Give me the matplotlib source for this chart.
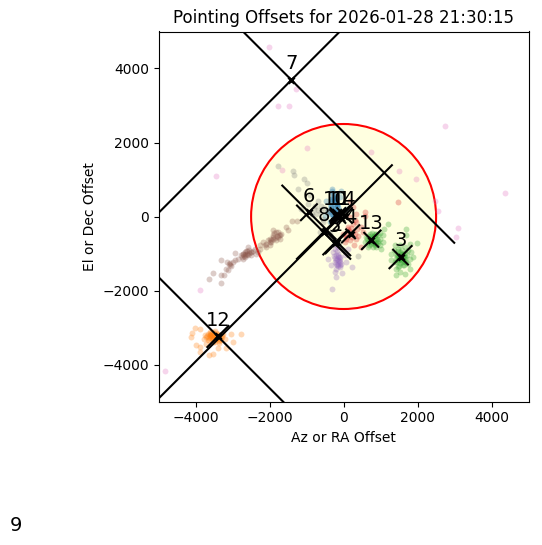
import matplotlib
matplotlib.use('Agg')
import matplotlib.pyplot as plt

# target number, centre and half lengths of the two arms of each cross
target_ids = [1, 2, 3, 4, 5, 6, 7, 8, 9, 10, 11, 12, 13, 14]
target_x = [-153, -180, 1539, 189, -243, -937, -1410, -540, -8865, -216, -126, -3397, 747, 27]
target_y = [27, -690, -1098, -468, -720, 116, 3690, -423, -8784, 27, 27, -3243, -630, 27]
arm_down = [200, 360, 200, 120, 360, 720, 4400, 720, 10170, 150, 150, 3400, 190, 200]
arm_up = [200, 306, 300, 234, 306, 216, 4400, 720, 10170, 150, 150, 285, 252, 200]

# measured offsets, one cloud per target
blue_x = [-306, -63, -468, -288, -378, -288, -513, -378, -243, -423, -108, -243, 72, -180, -306, -200, -330,
          -320, -280, -240, -200, -350, -310, -270, -230, -190, -150, -340, -300, -260, -220, -180, -400, -360,
          -320, -280, -240, -300, -260, -220, -340, -290, -250, -210, -170, -130]
blue_y = [747, 684, 432, 612, 342, 162, 27, -153, 432, 162, 522, -18, 207, 297, 477, 120, 250,
          700, 640, 560, 500, 480, 420, 380, 330, 300, 260, 270, 230, 190, 160, 130, 110, 80,
          60, 30, 10, -30, -60, -90, -120, 520, 460, 400, 340, 180]
green_x = [1692, 1674, 1980, 1782, 1377, 1512, 1647, 1287, 1359, 1467, 1737, 1827, 1782, 1872, 1287, 1377, 1422,
           1512, 1647, 1782, 1737, 1602, 1422, 1467, 1602, 1647, 1422, 1557, 1512, 1647,
           1420, 1460, 1500, 1540, 1580, 1620, 1660, 1700, 1440, 1480, 1520, 1560, 1600, 1640, 1680, 1450, 1490,
           1530, 1570, 1610, 1650, 1540, 1580, 1500, 1460]
green_y = [-333, -495, -711, -738, -783, -765, -828, -1008, -918, -873, -918, -963, -1143, -1098, -1188, -1233, -1593,
           -1503, -1548, -1413, -1278, -1323, -1413, -1053, -1008, -1098, -1143, -1188, -963, -1233,
           -1000, -940, -1060, -1120, -1000, -1060, -1160, -1040, -1240, -1180, -1260, -1000, -1180, -1300, -1220,
           -1080, -1120, -1160, -1240, -1130, -980, -1080, -900, -1340, -1360]
red_x = [567, 567, 342, 477, 522, 342, 477, 270, 1467, 162, 252, 342, 162, 117, 252, 72, -18, 162, 27,
         300, 250, 200, 150, 100, 350, 400, 300, 220, 130, 60]
red_y = [135, 27, -153, -288, -423, -603, -828, -783, 405, 432, 252, 72, -18, -288, -423, -558, -468, -648, -693,
         -100, -200, -300, -400, -500, -330, -520, -480, -560, -350, -620]
purple_x = [-423, -351, -198, -36, 225, 72, -198, -18, -198, -108, -153, -108, -198, -63, -243, -153, -288, 27, 117, -315,
            -220, -190, -160, -130, -100, -210, -170, -140, -110, -200, -160, -120, -240, -180, -140, -260, -220, -90]
purple_y = [-1143, -1305, -1638, -1530, -1368, -1233, -783, -918, -1188, -1098, -1278, -1368, -1413, -1278, -1503,
            -1008, -963, -1053, -873, -1953,
            -1120, -1150, -1180, -1210, -1240, -1290, -1320, -1350, -1310, -1030, -1060, -1090, -880, -920, -820, -1080, -1240, -1140]
brown_x = [-3636, -3528, -3321, -3231, -3303, -3303, -3141, -3168, -3078, -3033, -3123, -2925, -2943, -2853, -2763,
           -2718, -2673, -2583, -2583, -2493, -2403, -2358, -2268, -2178, -2088, -1998, -1908, -1818, -1728, -1908,
           -1728, -1548, -1395, -1251, -1503, -2043, -1953, -2133, -1998, -1773, -2673, -2628, -2718,
           -2750, -2700, -2650, -2600, -2550, -2500, -2450, -2720, -2660, -2610, -2560, -2510, -2000, -1950, -1900,
           -1850, -1800, -1750, -1700, -1920, -1870, -1820, -1770, -2100, -2250, -2320, -3090, -3060, -3000]
brown_y = [-1683, -1521, -1593, -1593, -1791, -1188, -1233, -1413, -1323, -1341, -1458, -981, -1188, -1143, -1053,
           -1008, -1098, -828, -1053, -963, -873, -1008, -783, -693, -738, -603, -558, -648, -513, -378,
           -603, -288, -135, -135, -378, -648, -693, -783, -783, -423, -1008, -945, -1143,
           -1090, -1060, -1030, -1000, -980, -950, -930, -1010, -970, -930, -900, -1040, -690, -640, -600,
           -570, -540, -500, -470, -490, -450, -420, -560, -820, -880, -950, -1290, -1270, -1240]
pink_x = [-2016, -1287, -1773, -1476, -990, -3456, 2754, 4374, -3870, -4825, -1665, 747, 1494, 1962, 2457, 2547, 3100, 3050]
pink_y = [4590, 3447, 2988, 2988, 1854, 1107, 2457, 648, -1980, -4166, 1260, 1737, 1242, 1017, 432, 162, -300, -550]
gray_x = [-1773, -1368, -1341, -1071, -990, -1233, -900, -693, -963, -783, -603, -1143, -738, -558, -648, -378, 387,
          -800, -700, -620, -520, -850, -450, -560]
gray_y = [1359, 1224, 1125, 1017, 909, 747, 585, 432, 342, 297, 297, 207, 72, -153, -423, -468, -1071,
          200, 180, 130, 220, 80, 130, -60]
orange_x = [-4028, -3875, -4091, -4118, -3983, -3893, -3785, -3713, -3623, -3578, -3533, -3488, -3668, -3713, -3488,
            -3353, -3218, -3263, -3038, -2768, -2993, -3173, -3398, -3650, -3533, -3893, -3750, -3650, -3550, -3450,
            -3400, -3300, -3600, -3480, -3520, -3380,
            -3700, -3660, -3620, -3580, -3540, -3500, -3460, -3420, -3380, -3340, -3300, -3640, -3600, -3560, -3520,
            -3480, -3440, -3400, -3360, -3320, -3620, -3570, -3510, -3460]
orange_y = [-3001, -3028, -3145, -3253, -3478, -3523, -3298, -3253, -3208, -3163, -3253, -3298, -3343, -3433, -3388,
            -3343, -3298, -3163, -3181, -3163, -3388, -3541, -3541, -3748, -3721, -3658, -3200, -3280, -3320, -3200,
            -3280, -3250, -3120, -3100, -3400, -3420,
            -3230, -3170, -3260, -3190, -3300, -3230, -3150, -3270, -3190, -3310, -3210, -3340, -3160, -3260, -3130,
            -3340, -3240, -3170, -3360, -3290, -3210, -3230, -3170, -3280]
green2_x = [1197, 1080, 972, 1062, 1062, 972, 702, 837, 612, 567, 657, 792, 882, 972, 657, 837, 927, 747, 882, 1017,
            620, 660, 700, 740, 780, 820, 860, 900, 940, 680, 720, 760, 800, 840, 880, 920, 700, 760, 820, 880]
green2_y = [-198, -333, -441, -513, -693, -783, -468, -468, -558, -693, -828, -828, -693, -603, -693, -603, -513, -738, -828, -873,
            -620, -540, -600, -520, -580, -680, -540, -620, -720, -760, -660, -440, -720, -780, -480, -660, -690, -590, -530, -740]

fig = plt.figure(figsize=(5.42, 5.45), dpi=100)
ax = fig.add_axes([158.6 / 542, 143.5 / 545, 370 / 542, 370 / 545])

ax.add_patch(plt.Circle((0, 0), 2500, facecolor='lightyellow', edgecolor='red', linewidth=1.5, zorder=1))

clouds = [(blue_x, blue_y, 'tab:blue'), (orange_x, orange_y, 'tab:orange'), (green_x, green_y, 'tab:green'),
          (green2_x, green2_y, 'tab:green'), (red_x, red_y, 'tab:red'), (purple_x, purple_y, 'tab:purple'),
          (brown_x, brown_y, 'tab:brown'), (pink_x, pink_y, 'tab:pink'), (gray_x, gray_y, 'tab:gray')]
for xs, ys, col in clouds:
    ax.plot(xs, ys, '.', color=col, alpha=0.3, markersize=8.5, markeredgewidth=0, zorder=2)

for i in range(len(target_ids)):
    x = target_x[i]
    y = target_y[i]
    a = arm_down[i]
    b = arm_up[i]
    ax.plot([x - a, x + a], [y + a, y - a], color='black', zorder=3)
    ax.plot([x - b, x + b], [y - b, y + b], color='black', zorder=3)
    ax.plot(x, y, 'x', color='black', markersize=4, markeredgewidth=2, zorder=3)
    ax.text(x, y + 180, str(target_ids[i]), fontsize=14, ha='center', va='bottom', zorder=4)

ax.set_xlim(-5000, 5000)
ax.set_ylim(-5000, 5000)
ax.set_xticks([-4000, -2000, 0, 2000, 4000])
ax.set_yticks([-4000, -2000, 0, 2000, 4000])
ax.set_xlabel('Az or RA Offset')
ax.set_ylabel('El or Dec Offset')
ax.set_title('Pointing Offsets for 2026-01-28 21:30:15')

fig.savefig('out.png', dpi=100)
